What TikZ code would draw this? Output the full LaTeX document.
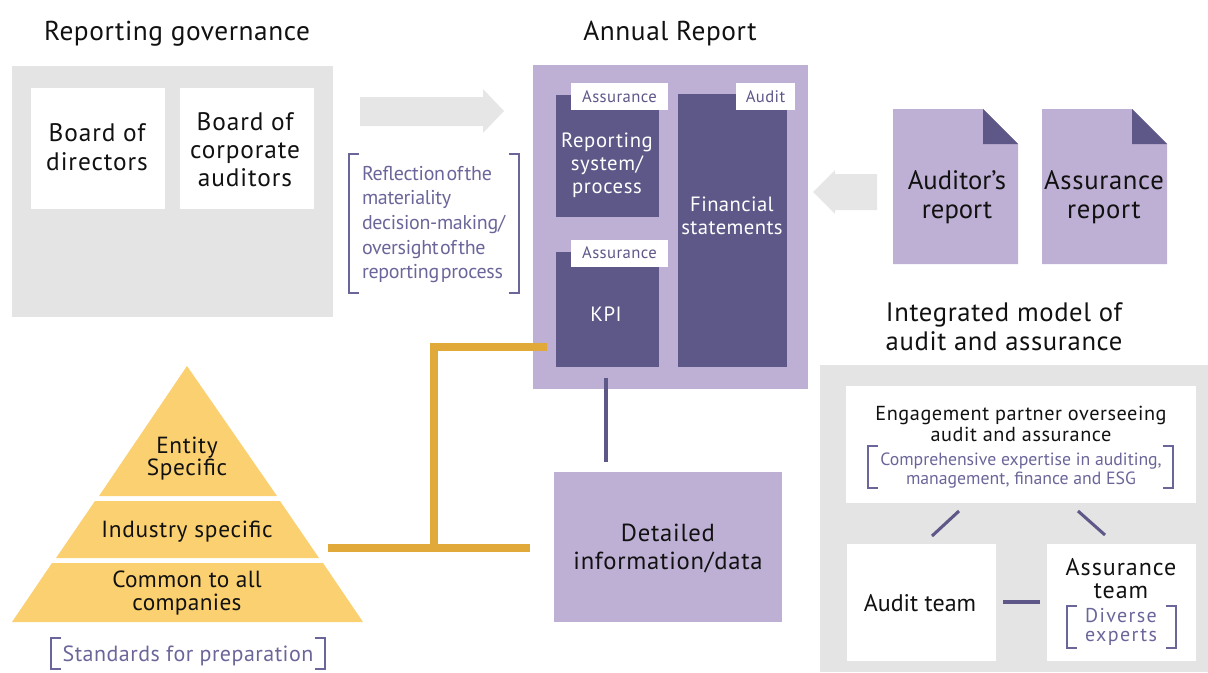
\documentclass[tikz,border=0pt]{standalone}
\usepackage{fontspec}
\setmainfont{PT Sans}
\newfontface\tightface[WordSpace=0.3,LetterSpace=-1.5]{PT Sans}
\definecolor{dkp}{HTML}{5E5889}
\definecolor{ltp}{HTML}{BEAFD4}
\definecolor{gry}{HTML}{E4E4E4}
\definecolor{arr}{HTML}{E6E6E6}
\definecolor{yel}{HTML}{FBD070}
\definecolor{gld}{HTML}{E0A93A}
\definecolor{ink}{HTML}{111111}
\definecolor{ptx}{HTML}{6B6699}
\newcommand{\bx}[6]{\node[panel,#6,minimum width={(#4-#2)*0.75pt},minimum height={(#5-#3)*0.75pt}] (#1) at ({(#2+#4)/2},{(#3+#5)/2}) {};}
% size, baseline skip, letter spacing
\newcommand{\fs}[3]{\fontsize{#1}{#2}\selectfont\addfontfeatures{LetterSpace=#3}}
\newcommand{\fstight}{\tightface\fontsize{15}{18.4}\selectfont}
\newcommand{\brk}[4]{\draw[brk] ({#1+10},#2) -- (#1,#2) -- (#1,#4) -- ({#1+10},#4);\draw[brk] ({#3-10},#2) -- (#3,#2) -- (#3,#4) -- ({#3-10},#4);}
\tikzset{
 panel/.style={rectangle,inner sep=0pt,outer sep=0pt,draw=none},
 lbl/.style={inner sep=0pt,outer sep=0pt,align=center,text=ink},
 wlbl/.style={lbl,text=white},
 plbl/.style={lbl,text=ptx},
 brk/.style={draw=ptx,line width=0.95pt},
 conn/.style={draw=dkp,line width=2.3pt},
 gold/.style={draw=gld,line width=6pt},
}
\begin{document}
\begin{tikzpicture}[x=0.75pt,y=-0.75pt]
\useasboundingbox (0,0) rectangle (1208,672);
% titles
\node[lbl,font=\fs{20.5}{24}{2}] (t1) at (177,34) {Reporting governance};
\node[lbl,font=\fs{20.5}{24}{2}] (t2) at (670,34) {Annual Report};
\node[lbl,font=\fs{20}{21.5}{2.4}] (t3) at (1004,327) {Integrated model of\\audit and assurance};
% governance
\bx{gov}{12}{66}{333}{317}{fill=gry}
\bx{bod}{31}{88}{165}{209}{fill=white}
\bx{boca}{180}{88}{314}{209}{fill=white}
\node[lbl,font=\fs{19}{21.5}{3.6}] (bodt) at (97,147) {Board of\\directors};
\node[lbl,font=\fs{19}{21}{3.6}] (bocat) at (245,150) {Board of\\corporate\\auditors};
% arrow
\fill[arr] (360,97) -- (483,97) -- (483,89) -- (504,111) -- (483,133) -- (483,126) -- (360,126) -- cycle;
\brk{349}{154}{519}{293}
\node[plbl,align=left,anchor=west,font=\fstight] (refl) at (362,224.5) {Reflection of the\\materiality\\decision-making/\\oversight of the\\reporting process};
% annual
\bx{ann}{533}{65}{808}{389}{fill=ltp}
\bx{rep}{556}{95}{659}{217}{fill=dkp}
\bx{kpi}{556}{252}{659}{367}{fill=dkp}
\bx{fin}{678}{94}{787}{367}{fill=dkp}
\bx{a1}{571}{83}{668}{110}{fill=white}
\bx{a2}{571}{240}{668}{267}{fill=white}
\bx{a3}{736}{83}{795}{110}{fill=white}
\node[plbl,font=\fs{12.5}{15}{2.5},text=dkp] (a1t) at (619.5,96.5) {Assurance};
\node[plbl,font=\fs{12.5}{15}{2.5},text=dkp] (a2t) at (619.5,253) {Assurance};
\node[plbl,font=\fs{12.5}{15}{2.5},text=dkp] (a3t) at (765.5,96.5) {Audit};
\node[wlbl,font=\fs{15.5}{17.2}{3}] (rept) at (607,165.5) {Reporting\\system/\\process};
\node[wlbl,font=\fs{15.5}{17.2}{3}] (kpit) at (606,314.5) {KPI};
\node[wlbl,font=\fs{15.5}{17.5}{2}] (fint) at (732,216) {Financial\\statements};
% reports
\fill[ltp] (893,109) -- (983,109) -- (1018,144) -- (1018,264) -- (893,264) -- cycle;
\fill[dkp] (983,109) -- (1018,144) -- (983,144) -- cycle;
\fill[ltp] (1042,109) -- (1132,109) -- (1167,144) -- (1167,264) -- (1042,264) -- cycle;
\fill[dkp] (1132,109) -- (1167,144) -- (1132,144) -- cycle;
\node[lbl,font=\fs{20}{21.5}{0}] (art) at (957,197.5) {Auditor’s\\report};
\node[lbl,font=\fs{20}{21.5}{2.5}] (asr) at (1104,197.5) {Assurance\\report};
\fill[arr] (877,174) -- (835,174) -- (835,170) -- (813,192) -- (835,214) -- (835,210) -- (877,210) -- cycle;
% pyramid
\fill[yel] (187,366) -- (277,496) -- (99,496) -- cycle;
\fill[yel] (95,501) -- (280,501) -- (319,558) -- (56,558) -- cycle;
\fill[yel] (52,563) -- (323,563) -- (363,622) -- (12,622) -- cycle;
\node[lbl,font=\fs{17.5}{16.5}{2.6}] (ent) at (187,459) {Entity\\Specific};
\node[lbl,font=\fs{17.5}{16.5}{3}] (ind) at (187,531.5) {Industry specific};
\node[lbl,font=\fs{17.5}{17}{1.5}] (com) at (187,593) {Common to all\\companies};
\brk{51}{638}{325}{669}
\node[plbl,font=\fs{16.5}{17}{2.2}] (std) at (188,656) {Standards for preparation};
% detail
\bx{det}{554}{472}{782}{622}{fill=ltp}
\node[lbl,font=\fs{18.5}{21.5}{3}] (dett) at (668,548.5) {Detailed\\information/data};
% connectors
\coordinate (g1) at (328,548);
\coordinate (g2) at (530,548);
\coordinate (g3) at (434,548);
\coordinate (g4) at (434,347);
\coordinate (g5) at (547,347);
\draw[gold] (g1) -- (g2);
\draw[gold,line join=miter] (g3) -- (g4) -- (g5);
\coordinate (p1) at (606,378);
\coordinate (p2) at (606,462);
\draw[conn] (p1) -- (p2);
% model
\bx{mod}{820}{365}{1208}{672}{fill=gry}
\bx{eng}{846}{386}{1196}{503}{fill=white}
\bx{aud}{847}{544}{996}{661}{fill=white}
\bx{ass}{1047}{544}{1196}{661}{fill=white}
\node[lbl,font=\fs{15.2}{16.3}{2.7}] (engt) at (1021,424) {Engagement partner overseeing\\audit and assurance};
\brk{868}{446}{1173}{488}
\node[plbl,font=\fs{13.3}{14.6}{0}] (comp) at (1021,470.5) {Comprehensive expertise in auditing,\\management, finance and ESG};
\node[lbl,font=\fs{18}{17}{0}] (audt) at (920,603.5) {Audit team};
\node[lbl,font=\fs{18}{17}{4}] (asst) at (1121,578.5) {Assurance\\team};
\brk{1067}{606}{1176}{648}
\node[plbl,font=\fs{15}{14.5}{7}] (div) at (1121,627) {Diverse\\experts};
\coordinate (c1) at (959,511);
\coordinate (c2) at (932,536);
\coordinate (c3) at (1078,511);
\coordinate (c4) at (1105,535);
\coordinate (c5) at (1003,602);
\coordinate (c6) at (1040,602);
\draw[conn] (c1) -- (c2);
\draw[conn] (c3) -- (c4);
\draw[conn] (c5) -- (c6);
\end{tikzpicture}
\end{document}
